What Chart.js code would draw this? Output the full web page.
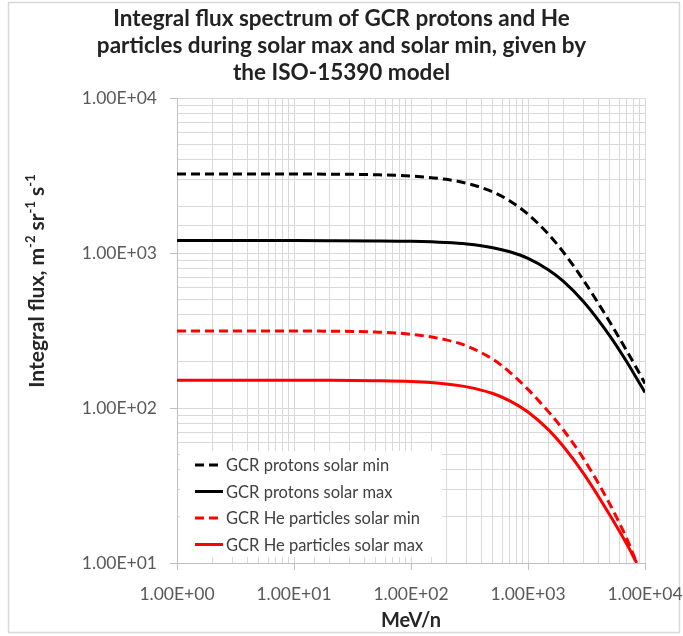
<!DOCTYPE html>
<html><head><meta charset="utf-8">
<script src="https://cdn.jsdelivr.net/npm/chart.js@4/dist/chart.umd.min.js"></script>
<style>html,body{margin:0;padding:0;background:#fff;} #wrap{width:683px;height:636px;}</style>
</head><body><div id="wrap"><canvas id="c" width="683" height="636"></canvas></div>
<script>
const energies = [1, 2, 5, 10, 20, 50, 100, 200, 300, 500, 700, 1000, 1500, 2000, 3000, 5000, 7000, 8500, 10000];
const protonsSolarMin = [3236, 3236, 3235, 3232, 3226, 3198, 3137, 2986, 2817, 2476, 2166, 1779, 1318, 1015, 662, 359, 233, 180, 144];
const protonsSolarMax = [1202, 1202, 1202, 1202, 1201, 1197, 1189, 1168, 1142, 1082, 1018, 923, 778, 658, 483, 292, 198, 155, 126];
const heSolarMin = [314, 314, 314, 314, 313, 309, 299, 275, 251, 206.5, 170, 131.8, 94.4, 72.4, 46.8, 24.0, 14.3, 10, null];
const heSolarMax = [151, 151, 151, 151, 150.9, 149.9, 148.0, 142.9, 136.9, 124.0, 111.2, 94.2, 72.2, 56.6, 37.6, 20.4, 13.2, 10, null];
const seriesNames = ['GCR protons solar min', 'GCR protons solar max', 'GCR He particles solar min', 'GCR He particles solar max'];
const xTickLabels = ['1.00E+00', '1.00E+01', '1.00E+02', '1.00E+03', '1.00E+04'];
const yTickLabels = ['1.00E+01', '1.00E+02', '1.00E+03', '1.00E+04'];
const titleLines = ['Integral flux spectrum of GCR protons and He', 'particles during solar max and solar min, given by', 'the ISO-15390 model'];
const xTitle = 'MeV/n';
// y-axis title pieces: [text, isSuperscript]
const yTitleParts = [['Integral flux, m', false], ['-2', true], [' sr', false], ['-1', true], [' s', false], ['-1', true]];

function pts(arr) {
  const out = [];
  energies.forEach((e, i) => { if (arr[i] !== null) out.push({x: e, y: arr[i]}); });
  return out;
}
function decade(v) {
  const e = Math.log10(v);
  return Math.abs(e - Math.round(e)) < 1e-9 ? Math.round(e) : null;
}
const FONT = "Lato, 'Open Sans', sans-serif";

const frame = {
  id: 'frame',
  beforeDraw(chart) {
    const c = chart.ctx;
    c.save();
    c.fillStyle = '#fff';
    c.fillRect(0, 0, chart.width, chart.height);
    c.strokeStyle = '#d9d9d9';
    c.lineWidth = 1.5;
    c.strokeRect(8.5, 2.5, 671, 630);
    c.restore();
  }
};
const boxLegend = {
  id: 'boxLegend',
  beforeDatasetsDraw(chart) {
    const c = chart.ctx;
    const a = chart.chartArea;
    c.save();
    c.fillStyle = '#fff';
    c.fillRect(a.left + 3, 451, 262, 106);
    c.font = '16.5px ' + FONT;
    c.textBaseline = 'middle';
    chart.data.datasets.forEach((ds, i) => {
      const y = 465 + i * 26.5;
      c.beginPath();
      c.setLineDash(ds.borderDash || []);
      c.strokeStyle = ds.borderColor;
      c.lineWidth = 3;
      c.moveTo(a.left + 18, y);
      c.lineTo(a.left + 46, y);
      c.stroke();
      c.setLineDash([]);
      c.fillStyle = '#404040';
      c.fillText(ds.label, a.left + 49, y + 1);
    });
    c.restore();
  }
};
const yAxisTitle = {
  id: 'yAxisTitle',
  afterDraw(chart) {
    const c = chart.ctx;
    const main = 'bold 21px ' + FONT, sup = 'bold 13px ' + FONT;
    c.save();
    let total = 0;
    yTitleParts.forEach(([t, s]) => { c.font = s ? sup : main; total += c.measureText(t).width; });
    c.translate(37, 281);
    c.rotate(-Math.PI / 2);
    c.fillStyle = '#262626';
    c.textBaseline = 'middle';
    let x = -total / 2;
    yTitleParts.forEach(([t, s]) => {
      c.font = s ? sup : main;
      c.fillText(t, x, s ? -6 : 0);
      x += c.measureText(t).width;
    });
    c.restore();
  }
};

const mk = (label, arr, color, dash) => ({
  label, data: pts(arr), borderColor: color, backgroundColor: color,
  borderWidth: 3, borderDash: dash, pointRadius: 0, fill: false,
  cubicInterpolationMode: 'monotone'
});

new Chart(document.getElementById('c'), {
  type: 'line',
  data: {
    datasets: [
      mk(seriesNames[0], protonsSolarMin, '#000000', [9, 5]),
      mk(seriesNames[1], protonsSolarMax, '#000000', []),
      mk(seriesNames[2], heSolarMin, '#ff0000', [9, 5]),
      mk(seriesNames[3], heSolarMax, '#ff0000', [])
    ]
  },
  options: {
    responsive: false,
    animation: false,
    devicePixelRatio: 1,
    layout: {padding: 0},
    plugins: {
      legend: {display: false},
      tooltip: {enabled: false},
      title: {
        display: true, text: titleLines, color: '#222',
        font: {family: FONT, size: 22.5, weight: 'bold', lineHeight: 1.2},
        padding: {top: 5, bottom: 12}
      }
    },
    scales: {
      x: {
        type: 'logarithmic', min: 1, max: 10000,
        border: {color: '#bfbfbf'},
        grid: {color: '#d9d9d9', tickLength: 7,
          tickColor: (ctx) => (ctx.tick && decade(ctx.tick.value) !== null) ? '#bfbfbf' : 'rgba(0,0,0,0)'},
        ticks: {autoSkip: false, maxRotation: 0, padding: 14, color: '#595959',
          font: {family: FONT, size: 17.5},
          callback: (v) => { const d = decade(v); return d === null ? '' : xTickLabels[d]; }},
        title: {display: true, text: xTitle, color: '#262626',
          font: {family: FONT, size: 20, weight: 'bold'}, padding: {top: 0, bottom: 3}},
        afterFit: (s) => { s.height = 73; s.paddingLeft = 0; s.paddingRight = 38; }
      },
      y: {
        type: 'logarithmic', min: 10, max: 10000,
        border: {color: '#bfbfbf'},
        grid: {color: '#d9d9d9', tickLength: 7,
          tickColor: (ctx) => (ctx.tick && decade(ctx.tick.value) !== null) ? '#bfbfbf' : 'rgba(0,0,0,0)'},
        ticks: {autoSkip: false, padding: 13, color: '#595959',
          font: {family: FONT, size: 17.5},
          callback: (v) => { const d = decade(v); return d === null ? '' : yTickLabels[d - 1]; }},
        title: {display: false},
        afterFit: (s) => { s.width = 177; s.paddingTop = 0; s.paddingBottom = 0; }
      }
    }
  },
  plugins: [frame, boxLegend, yAxisTitle]
});
</script></body></html>
